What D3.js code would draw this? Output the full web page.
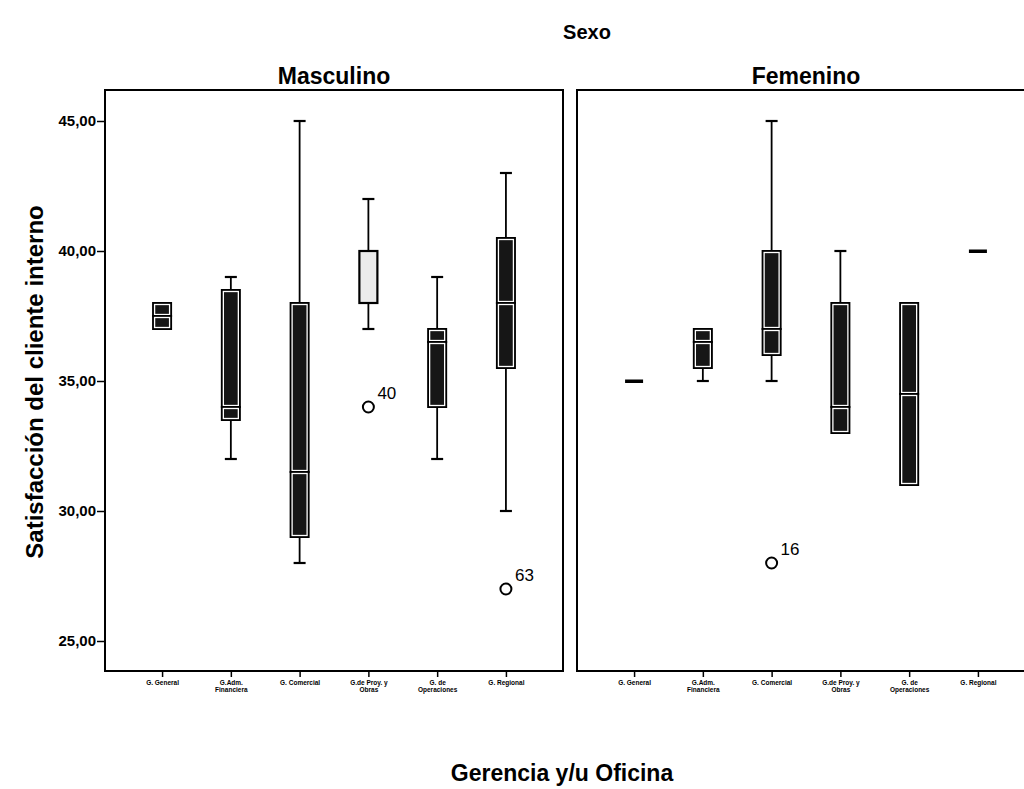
<!DOCTYPE html>
<html>
<head>
<meta charset="utf-8">
<script src="https://cdn.jsdelivr.net/npm/d3@7"></script>
<style>
body { margin: 0; background: #fff; }
text { font-family: Arial, "Liberation Sans", Helvetica, sans-serif; }
</style>
</head>
<body>
<div id="chart"></div>
<script>
let w = 1024;
let h = 789;

// categories ("|" = line break in tick label)
const categories = ["G. General", "G.Adm.|Financiera", "G. Comercial", "G.de Proy. y|Obras", "G. de|Operaciones", "G. Regional"];
const yTicks = [25, 30, 35, 40, 45];

// Masculino
const mascMin = [37, 32, 28, 37, 32, 30];
const mascQ1 = [37, 33.5, 29, 38, 34, 35.5];
const mascMed = [37.5, 34, 31.5, 38, 36.5, 38];
const mascQ3 = [38, 38.5, 38, 40, 37, 40.5];
const mascMax = [38, 39, 45, 42, 39, 43];
const mascOutCat = [3, 5];
const mascOutVal = [34, 27];
const mascOutId = ["40", "63"];

// Femenino
const femMin = [35, 35, 35, 33, 31, 40];
const femQ1 = [35, 35.5, 36, 33, 31, 40];
const femMed = [35, 36.5, 37, 34, 34.5, 40];
const femQ3 = [35, 37, 40, 38, 38, 40];
const femMax = [35, 37, 45, 40, 38, 40];
const femOutCat = [2];
const femOutVal = [28];
const femOutId = ["16"];

let panelTop = 90, panelBottom = 671, panelW = 458;
let boxW = 20;

let svg = d3.select("#chart")
    .append("svg")
    .attr("width", w)
    .attr("height", h);

let yScale = d3.scaleLinear()
    .domain([25, 45])
    .range([641, 121]);

function buildStats(mins, q1s, meds, q3s, maxs) {
    return categories.map((c, i) => ({
        i: i, min: mins[i], q1: q1s[i], med: meds[i], q3: q3s[i], max: maxs[i]
    }));
}

function drawPanel(x0, title, stats, outCat, outVal, outId, lightIdx) {
    let xScale = d3.scalePoint()
        .domain(d3.range(categories.length))
        .range([x0, x0 + panelW])
        .padding(0.83);

    let g = svg.append("g");

    // frame
    g.append("rect")
        .attr("x", x0)
        .attr("y", panelTop)
        .attr("width", panelW)
        .attr("height", panelBottom - panelTop)
        .attr("fill", "none")
        .attr("stroke", "#000")
        .attr("stroke-width", 2);

    g.append("text")
        .attr("x", x0 + panelW / 2)
        .attr("y", 84)
        .attr("text-anchor", "middle")
        .style("font-size", "23px")
        .style("font-weight", "bold")
        .text(title);

    // x axis
    let xAxis = d3.axisBottom(xScale).tickSize(6).tickFormat("");
    let ax = g.append("g")
        .attr("transform", "translate(0," + panelBottom + ")")
        .call(xAxis);
    ax.select(".domain").remove();
    ax.selectAll("line").attr("stroke", "#000").attr("stroke-width", 1.5);
    ax.selectAll(".tick").each(function(d) {
        let lines = categories[d].split("|");
        d3.select(this).selectAll("text.lbl")
            .data(lines)
            .enter()
            .append("text")
            .attr("class", "lbl")
            .attr("y", (l, k) => 14 + k * 7)
            .attr("text-anchor", "middle")
            .attr("fill", "#000")
            .style("font-size", "6.5px")
            .style("font-weight", "bold")
            .text(l => l);
    });

    stats.forEach(function(s) {
        let cx = xScale(s.i);
        let light = s.i === lightIdx;

        // whiskers
        if (s.max > s.q3) {
            g.append("line").attr("x1", cx).attr("x2", cx)
                .attr("y1", yScale(s.max)).attr("y2", yScale(s.q3))
                .attr("stroke", "#000").attr("stroke-width", 1.8);
            g.append("line").attr("x1", cx - 6).attr("x2", cx + 6)
                .attr("y1", yScale(s.max)).attr("y2", yScale(s.max))
                .attr("stroke", "#000").attr("stroke-width", 2.2);
        }
        if (s.min < s.q1) {
            g.append("line").attr("x1", cx).attr("x2", cx)
                .attr("y1", yScale(s.q1)).attr("y2", yScale(s.min))
                .attr("stroke", "#000").attr("stroke-width", 1.8);
            g.append("line").attr("x1", cx - 6).attr("x2", cx + 6)
                .attr("y1", yScale(s.min)).attr("y2", yScale(s.min))
                .attr("stroke", "#000").attr("stroke-width", 2.2);
        }

        if (s.q3 === s.q1) {
            g.append("rect")
                .attr("x", cx - boxW / 2 + 1)
                .attr("y", yScale(s.med) - 1.5)
                .attr("width", boxW - 2)
                .attr("height", 3.5)
                .attr("fill", "#000");
            return;
        }

        // two halves of the box
        [[s.med, s.q3], [s.q1, s.med]].forEach(function(p) {
            if (p[1] <= p[0]) return;
            let yTop = yScale(p[1]), yBot = yScale(p[0]);
            if (light) {
                g.append("rect")
                    .attr("x", cx - boxW / 2 + 1)
                    .attr("y", yTop)
                    .attr("width", boxW - 2)
                    .attr("height", yBot - yTop)
                    .attr("fill", "#ebebeb")
                    .attr("stroke", "#000")
                    .attr("stroke-width", 2.2);
                return;
            }
            g.append("rect")
                .attr("x", cx - boxW / 2)
                .attr("y", yTop - 1)
                .attr("width", boxW)
                .attr("height", yBot - yTop + 2)
                .attr("fill", "#000");
            g.append("rect")
                .attr("x", cx - boxW / 2 + 2.5)
                .attr("y", yTop + 1.5)
                .attr("width", boxW - 5)
                .attr("height", Math.max(0, yBot - yTop - 3))
                .attr("fill", "#161616")
                .attr("stroke", "#fff")
                .attr("stroke-width", 1.3);
        });
    });

    // outliers
    outCat.forEach(function(c, k) {
        let cx = xScale(c), cy = yScale(outVal[k]);
        g.append("circle")
            .attr("cx", cx)
            .attr("cy", cy)
            .attr("r", 5.5)
            .attr("fill", "#fff")
            .attr("stroke", "#000")
            .attr("stroke-width", 2);
        g.append("text")
            .attr("x", cx + 9)
            .attr("y", cy - 8)
            .style("font-size", "17px")
            .text(outId[k]);
    });

    return g;
}

drawPanel(105, "Masculino", buildStats(mascMin, mascQ1, mascMed, mascQ3, mascMax),
    mascOutCat, mascOutVal, mascOutId, 3);
drawPanel(577, "Femenino", buildStats(femMin, femQ1, femMed, femQ3, femMax),
    femOutCat, femOutVal, femOutId, -1);

// y axis on left panel
let yAxis = d3.axisLeft(yScale)
    .tickValues(yTicks)
    .tickSize(8)
    .tickPadding(1)
    .tickFormat(d => d3.format(".2f")(d).replace(".", ","));
let yg = svg.append("g")
    .attr("transform", "translate(105,0)")
    .call(yAxis);
yg.select(".domain").remove();
yg.selectAll("line").attr("stroke", "#000").attr("stroke-width", 1.5);
yg.selectAll("text")
    .attr("fill", "#000")
    .style("font-size", "15px")
    .style("font-weight", "bold")
    .style("font-family", "Arial, 'Liberation Sans', sans-serif");

// titles
svg.append("text")
    .attr("x", 587)
    .attr("y", 39)
    .attr("text-anchor", "middle")
    .style("font-size", "20px")
    .style("font-weight", "bold")
    .text("Sexo");

svg.append("text")
    .attr("x", 562)
    .attr("y", 781)
    .attr("text-anchor", "middle")
    .style("font-size", "23px")
    .style("font-weight", "bold")
    .text("Gerencia y/u Oficina");

svg.append("text")
    .attr("transform", "translate(43,382) rotate(-90)")
    .attr("text-anchor", "middle")
    .style("font-size", "24px")
    .style("font-weight", "bold")
    .text("Satisfacción del cliente interno");
</script>
</body>
</html>
